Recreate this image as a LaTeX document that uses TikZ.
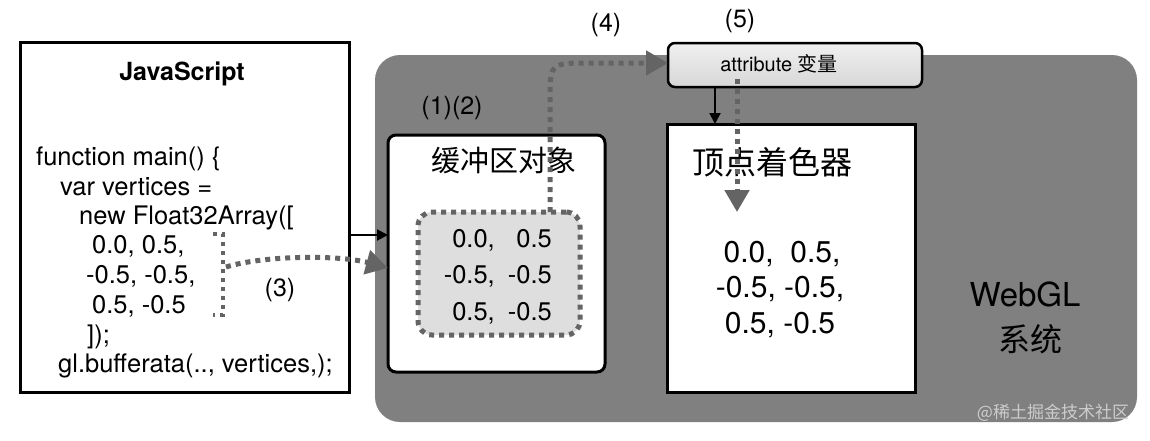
\documentclass[tikz,border=0pt]{standalone}
\usepackage{fontspec}
\setmainfont{TeX Gyre Heros}
\newfontfamily\cjk{Noto Sans CJK SC}
\usetikzlibrary{arrows.meta,calc}
\definecolor{sysgray}{RGB}{128,128,128}
\definecolor{dotgray}{RGB}{100,100,100}
\definecolor{innerfill}{RGB}{222,222,222}
\definecolor{attrtop}{RGB}{240,240,240}
\definecolor{attrbot}{RGB}{215,215,215}
\definecolor{wm}{RGB}{205,205,205}
\begin{document}
\begin{tikzpicture}[x=1pt,y=-1pt,
  box/.style={draw=black, line width=3pt, fill=white, anchor=north west, outer sep=0pt, inner sep=0pt},
  lbl/.style={font=\fontsize{25}{30}\selectfont, inner sep=0pt},
  code/.style={anchor=base west, inner sep=0pt, font=\fontsize{25.5}{28}\selectfont},
  bnum/.style={anchor=base east, inner sep=0pt, font=\fontsize{25.5}{30}\selectfont},
  vnum/.style={anchor=base, inner sep=0pt, font=\fontsize{30}{34}\selectfont},
  dotline/.style={draw=dotgray, line width=5pt, dash pattern=on 5pt off 5pt},
  graytip/.style={-{Triangle[length=22pt,width=24pt,fill=dotgray,color=dotgray]}},
  blackarrow/.style={draw=black, line width=2pt, -{Triangle[length=11pt,width=11pt]}}
]
\useasboundingbox (0,0) rectangle (1150,440);
% WebGL system
\node[box, draw=none, fill=sysgray, rounded corners=25pt, minimum width=762pt, minimum height=367pt] (sys) at (375,55) {};
\node[lbl, font=\fontsize{33}{38}\selectfont] (webgl) at (1025,294) {WebGL};
\node[lbl, font=\fontsize{32}{36}\selectfont\cjk] (xitong) at (1030,339) {系统};
\node[inner sep=0pt, text=wm, font=\fontsize{17}{20}\selectfont\cjk] (wmark) at (1053,413) {@稀土掘金技术社区};
% JavaScript box
\node[box, minimum width=329pt, minimum height=350pt] (js) at (20,42) {};
\node[anchor=base, inner sep=0pt, font=\fontsize{25}{28}\selectfont\bfseries] (jst) at (182,80) {JavaScript};
\node[code] (c1) at (36,165) {function main() \{};
\node[code] (c2) at (60,195) {var vertices =};
\node[code] (c3) at (79,224) {new Float32Array([};
\node[code] (c4) at (92,253) {0.0, 0.5,};
\node[code] (c5) at (86,283) {-0.5, -0.5,};
\node[code] (c6) at (92,313) {0.5, -0.5};
\node[code] (c7) at (87,343) {]);};
\node[code] (c8) at (58,372) {gl.bufferata(.., vertices,);};
% buffer object box
\node[box, rounded corners=8pt, minimum width=217pt, minimum height=237pt] (buf) at (388,135) {};
\node[lbl, font=\fontsize{29}{34}\selectfont\cjk] (buft) at (504,160) {缓冲区对象};
\node[lbl] (l12) at (452,108) {(1)(2)};
\node[box, dotline, fill=innerfill, rounded corners=14pt, minimum width=162pt, minimum height=123pt] (inner) at (418,212) {};
\node[bnum] (b11) at (495,247) {0.0,};
\node[bnum] (b12) at (552,247) {0.5};
\node[bnum] (b21) at (495,283) {-0.5,};
\node[bnum] (b22) at (552,283) {-0.5};
\node[bnum] (b31) at (495,320) {0.5,};
\node[bnum] (b32) at (552,320) {-0.5};
% vertex shader box
\node[box, minimum width=248pt, minimum height=268pt] (vs) at (667,124) {};
\node[lbl, font=\fontsize{32}{38}\selectfont\cjk] (vst) at (772,162) {顶点着色器};
\node[vnum] (v1) at (782,262) {0.0,\ \ 0.5,};
\node[vnum] (v2) at (780,297) {-0.5, -0.5,};
\node[vnum] (v3) at (780,333) {0.5, -0.5};
% attribute box
\node[box, line width=2.5pt, rounded corners=7pt, top color=attrtop, bottom color=attrbot, minimum width=254pt, minimum height=44pt] (attr) at (668,43) {};
\node[inner sep=0pt, font=\fontsize{20}{22}\selectfont] (attrt) at (779,64) {attribute {\cjk 变量}};
% labels
\node[lbl] (l3) at (280,290) {(3)};
\node[lbl] (l4) at (606,25) {(4)};
\node[lbl] (l5) at (740,21) {(5)};
% (3) bracket and curve
\coordinate (bt) at (213,234);
\coordinate (bb) at (213,315);
\coordinate (bm) at (226,267);
\draw[draw=dotgray, line width=4pt, dash pattern=on 4pt off 5pt] (bt) -- (223,234) -- (223,315) -- (bb);
\draw[dotline, graytip] (bm) .. controls (265,255) and (340,255) .. (buf.west |- 0,268);
% js -> buffer
\draw[blackarrow] (js.east |- 0,235) -- (buf.west |- 0,235);
% (4) buffer -> attribute
\coordinate (p4) at (550,212);
\draw[dotline, graytip] (p4) -- (550,100) .. controls (550,63) .. (590,63) -- (attr.west |- 0,63);
% (5) attribute -> vertex shader
\draw[blackarrow] (attr.south -| 715,0) -- (vs.north -| 715,0);
\coordinate (d5) at (737,212);
\draw[dotline, graytip, shorten <=-8pt] (attr.south -| d5) -- (d5);
\end{tikzpicture}
\end{document}
